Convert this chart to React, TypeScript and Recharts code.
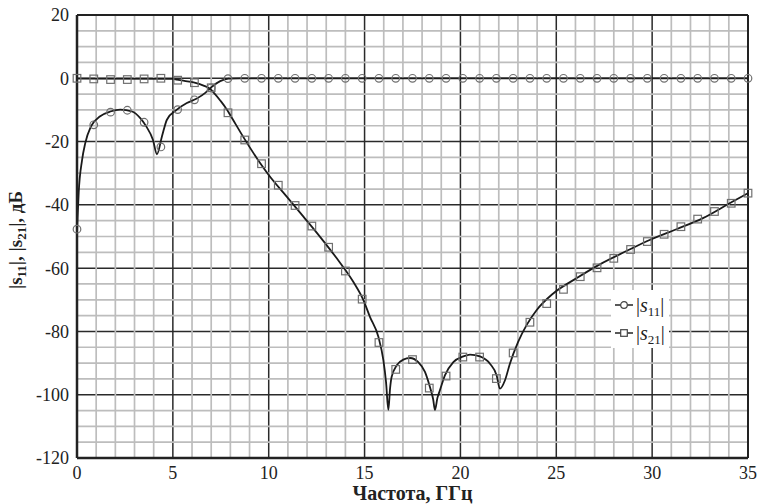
import { ComposedChart, Line, Scatter, XAxis, YAxis, CartesianGrid, ReferenceLine, Legend, Label } from 'recharts'

// оси и сетка
const xTicks = [0, 5, 10, 15, 20, 25, 30, 35]
const yTicks = [-120, -100, -80, -60, -40, -20, 0, 20]
const xMinor = [1, 2, 3, 4, 6, 7, 8, 9, 11, 12, 13, 14, 16, 17, 18, 19, 21, 22, 23, 24, 26, 27, 28, 29, 31, 32, 33, 34]
const yMinor = [-115, -110, -105, -95, -90, -85, -75, -70, -65, -55, -50, -45, -35, -30, -25, -15, -10, -5, 5, 10, 15]

// точки-маркеры (ГГц)
const markerFreq = [
  0, 0.875, 1.75, 2.625, 3.5, 4.375, 5.25, 6.125, 7, 7.875,
  8.75, 9.625, 10.5, 11.375, 12.25, 13.125, 14, 14.875, 15.75, 16.625,
  17.5, 18.375, 19.25, 20.125, 21, 21.875, 22.75, 23.625, 24.5, 25.375,
  26.25, 27.125, 28, 28.875, 29.75, 30.625, 31.5, 32.375, 33.25, 34.125, 35,
]
const s11Marks = [
  -47.7, -14.7, -10.7, -10.1, -13.9, -21.7, -9.9, -6.8, -3.0, -0.1,
  0, 0, 0, 0, 0, 0, 0, 0, 0, 0,
  0, 0, 0, 0, 0, 0, 0, 0, 0, 0,
  0, 0, 0, 0, 0, 0, 0, 0, 0, 0, 0,
]
const s21Marks = [
  0, -0.2, -0.4, -0.4, -0.2, 0, -0.6, -1.4, -3.0, -10.9,
  -19.5, -27.0, -33.8, -40.2, -46.7, -53.4, -60.9, -69.8, -83.5, -92.0,
  -88.9, -97.9, -94.1, -88.1, -88.1, -94.9, -86.8, -77.1, -71.2, -66.7,
  -62.7, -59.9, -56.9, -54.1, -51.6, -49.3, -46.9, -44.5, -42.1, -39.5, -36.3,
]

// сплошные кривые
const s11Freq = [0, 0.03, 0.09, 0.26, 0.43, 0.73, 1.21, 1.74, 2.26, 2.87, 3.3, 3.61, 3.96, 4.17, 4.43, 4.69, 5.21, 5.73, 6.25, 6.69, 7.03, 7.47, 7.9, 8.5, 35]
const s11Curve = [-49, -44, -36, -26, -20.5, -15.2, -12.0, -10.5, -9.9, -10.5, -12.6, -15.2, -19.4, -24.0, -18.4, -13.1, -9.9, -7.8, -6.4, -4.6, -2.7, -0.9, -0.1, 0, 0]

const s21Freq = [
  0, 5.0, 5.21, 5.6, 6.08, 6.6, 6.95, 7.2, 7.47, 7.82, 7.99, 8.68, 9.55, 9.99, 10.94, 11.81, 12.68, 13.55, 14.41, 14.94,
  15.28, 15.72, 15.98, 16.12, 16.24, 16.33, 16.41, 16.68, 17.02, 17.37, 17.8, 18.15, 18.41, 18.58, 18.67, 18.8, 18.93, 19.19, 19.63, 20.15,
  20.5, 21.02, 21.54, 21.89, 22.06, 22.32, 22.58, 23.01, 23.45, 23.97, 24.84, 26.05, 27.27, 28.66, 29.87, 31.27, 32.65, 34.04, 35,
]
const s21Curve = [
  -0.1, -0.2, -0.4, -0.8, -1.3, -2.3, -3.4, -5.0, -7.0, -9.9, -11.6, -18.6, -26.8, -30.5, -37.4, -43.7, -50.1, -56.9, -64.3, -70.1,
  -75.4, -81.7, -89.1, -96.0, -104.8, -98.0, -94.4, -90.7, -88.9, -88.4, -89.7, -92.8, -97.6, -101.5, -104.8, -101.0, -98.6, -93.9, -89.7, -87.9,
  -87.3, -87.9, -90.2, -93.9, -98.1, -95.5, -90.2, -83.3, -78.0, -73.3, -68.0, -63.2, -58.8, -54.6, -51.1, -47.7, -44.2, -39.5, -36.3,
]

const s11Pts = markerFreq.map((x, i) => ({ x, y: s11Marks[i] }))
const s21Pts = markerFreq.map((x, i) => ({ x, y: s21Marks[i] }))
const s11Line = s11Freq.map((x, i) => ({ x, y: s11Curve[i] }))
const s21Line = s21Freq.map((x, i) => ({ x, y: s21Curve[i] }))

const serif = 'serif'
const markStroke = '#707070'

const CircleMark = (p: any) => <circle cx={p.cx} cy={p.cy} r={3.8} fill="none" stroke={markStroke} strokeWidth={1.2} />
const SquareMark = (p: any) => <rect x={p.cx - 3.8} y={p.cy - 3.8} width={7.6} height={7.6} fill="none" stroke={markStroke} strokeWidth={1.2} />

const Sub = ({ children }: { children: any }) => (
  <span style={{ fontSize: 13, position: 'relative', top: 4 }}>{children}</span>
)

function LegendBox() {
  const row = { display: 'flex', alignItems: 'center', height: 28 }
  return (
    <div style={{ background: '#fff', padding: '1px 4px', fontFamily: serif, fontSize: 20, color: '#222' }}>
      <div style={row}>
        <svg width={18} height={10} style={{ marginRight: 3 }}>
          <line x1={0} y1={5} x2={18} y2={5} stroke="#222" strokeWidth={1.5} />
          <circle cx={9} cy={5} r={3.3} fill="#fff" stroke="#444" strokeWidth={1.2} />
        </svg>
        <span>|<i>s</i><Sub>11</Sub>|</span>
      </div>
      <div style={row}>
        <svg width={18} height={10} style={{ marginRight: 3 }}>
          <line x1={0} y1={5} x2={18} y2={5} stroke="#222" strokeWidth={1.5} />
          <rect x={5.7} y={1.7} width={6.6} height={6.6} fill="#fff" stroke="#444" strokeWidth={1.2} />
        </svg>
        <span>|<i>s</i><Sub>21</Sub>|</span>
      </div>
    </div>
  )
}

function YLabel() {
  return (
    <text x={22} y={240} transform="rotate(-90 22 240)" textAnchor="middle" fontSize={19} fontWeight="bold" fill="#222" style={{ fontFamily: serif }}>
      |<tspan>s</tspan>
      <tspan fontSize={13} dy={4}>11</tspan>
      <tspan dy={-4}>|, |</tspan>
      <tspan>s</tspan>
      <tspan fontSize={13} dy={4}>21</tspan>
      <tspan dy={-4}>|, дБ</tspan>
    </text>
  )
}

export default function App() {
  const tick = { fontSize: 18, fill: '#222', style: { fontFamily: serif } }
  return (
    <div style={{ width: 767, height: 504, position: 'relative', background: '#fff', fontFamily: serif }}>
      <style>{'body{margin:0} .recharts-wrapper text { font-family: serif; }'}</style>
      <ComposedChart width={767} height={504} margin={{ top: 15, right: 19, left: 17, bottom: 16 }}>
        <CartesianGrid stroke="#2a2a2a" strokeWidth={1.5} />
        {xMinor.map(v => <ReferenceLine key={'x' + v} x={v} stroke="#bdbdbd" strokeWidth={1.7} />)}
        {yMinor.map(v => <ReferenceLine key={'y' + v} y={v} stroke="#bdbdbd" strokeWidth={1.7} />)}
        <ReferenceLine x={35} stroke="#222" strokeWidth={2} />
        <ReferenceLine y={20} stroke="#222" strokeWidth={2} />
        <XAxis
          dataKey="x"
          type="number"
          domain={[0, 35]}
          ticks={xTicks}
          tickLine={false}
          axisLine={{ stroke: '#222', strokeWidth: 2.5 }}
          tick={tick}
          height={30}
          allowDuplicatedCategory={false}
        >
          <Label value="Частота, ГГц" position="insideBottom" offset={-12} fontSize={20} fontWeight="bold" fill="#222" style={{ fontFamily: serif }} />
        </XAxis>
        <YAxis
          type="number"
          domain={[-120, 20]}
          ticks={yTicks}
          tickLine={false}
          axisLine={{ stroke: '#222', strokeWidth: 2.5 }}
          tick={tick}
          width={60}
        >
          <Label content={<YLabel />} />
        </YAxis>
        <Line data={s11Line} dataKey="y" type="monotone" stroke="#1a1a1a" strokeWidth={1.8} dot={false} isAnimationActive={false} />
        <Line data={s21Line} dataKey="y" type="monotone" stroke="#1a1a1a" strokeWidth={1.8} dot={false} isAnimationActive={false} />
        <Scatter data={s11Pts} dataKey="y" shape={CircleMark} isAnimationActive={false} />
        <Scatter data={s21Pts} dataKey="y" shape={SquareMark} isAnimationActive={false} />
        <Legend
          layout="horizontal"
          verticalAlign="middle"
          align="center"
          content={() => <LegendBox />}
          wrapperStyle={{ left: 611, top: 290, width: 'auto' }}
        />
      </ComposedChart>
    </div>
  )
}
